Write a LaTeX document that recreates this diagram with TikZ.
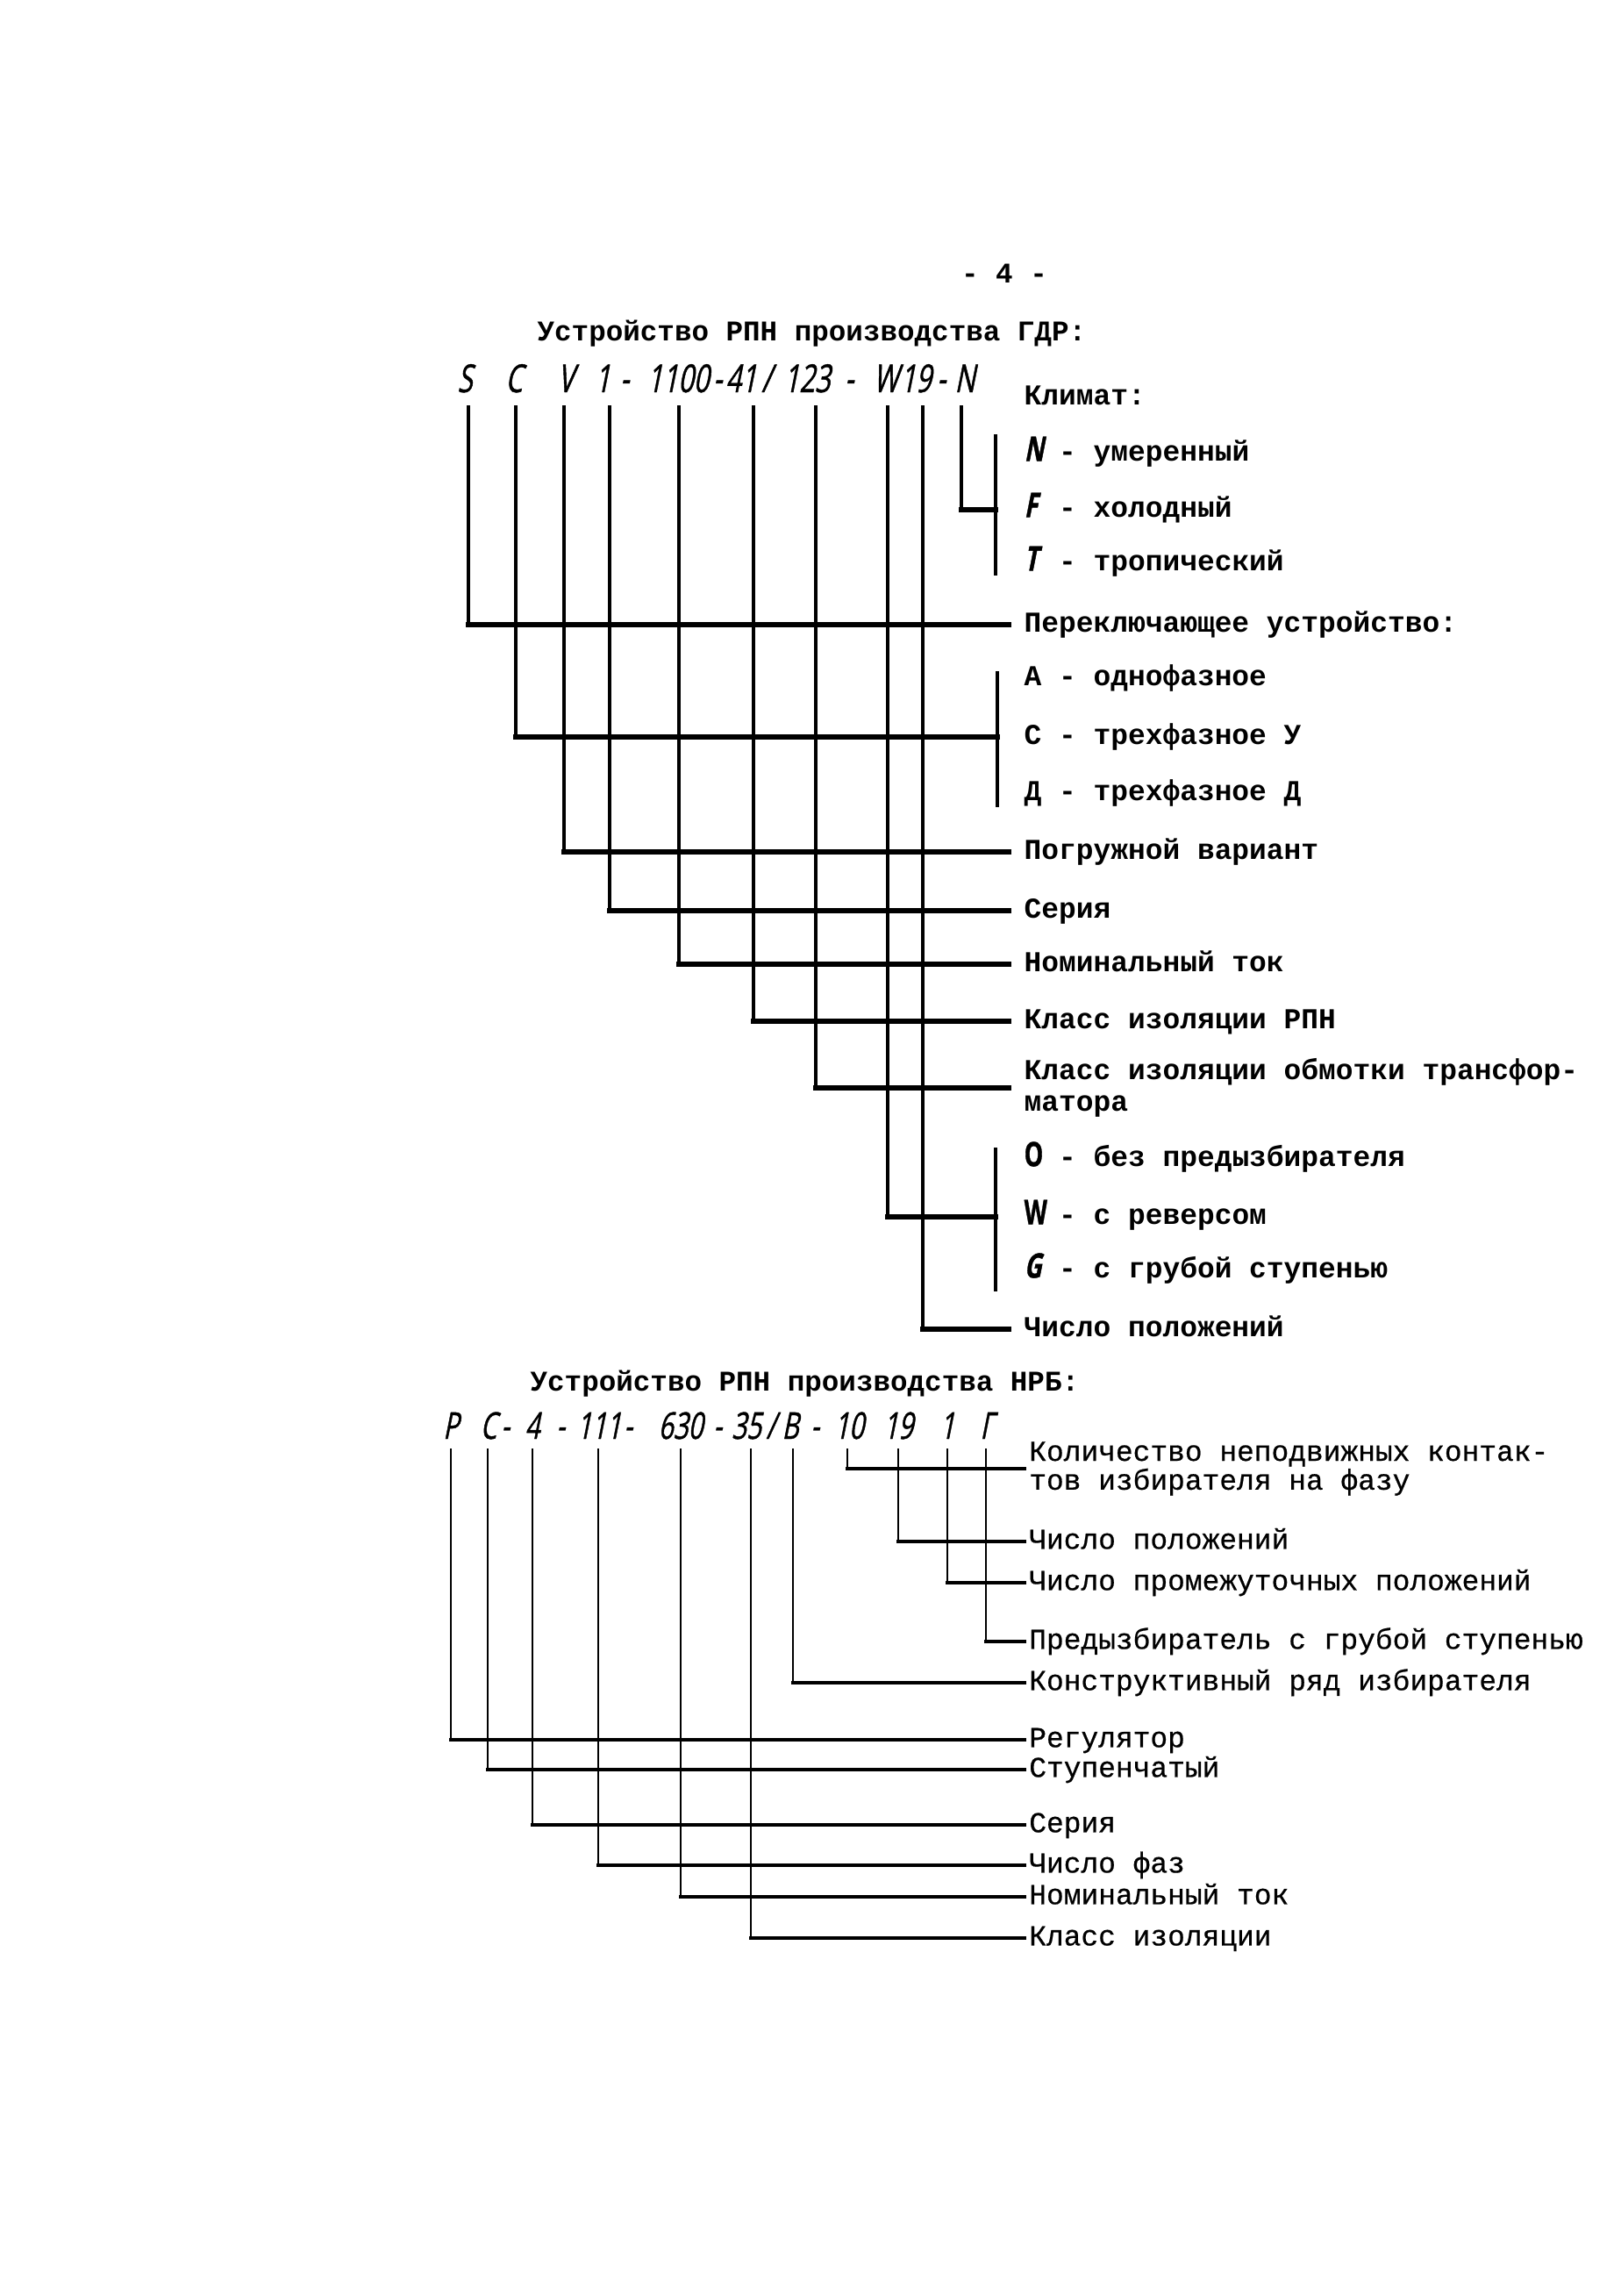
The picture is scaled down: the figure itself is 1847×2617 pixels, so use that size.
\documentclass[tikz,border=0pt]{standalone}
\usepackage{fontspec}
\newfontfamily\twbase{Liberation Mono}
\newfontfamily\twlow{Liberation Mono}[FakeBold=0.6]
\newfontfamily\cdslant{Open Sans}[FakeStretch=0.7,FakeSlant=0.2,FakeBold=1.0]
\newfontfamily\cdupr{Open Sans}[FakeStretch=0.7,FakeBold=0.8]
\newcommand\twb{\twbase\bfseries}
\newcommand\lc[1]{\makebox[6.36pt][l]{\cdslant\fontsize{12.5}{12.5}\selectfont #1}}
\newcommand\lu[1]{\makebox[6.36pt][l]{\cdupr\fontsize{12.5}{12.5}\selectfont #1}}
\tikzset{
  ul/.style={anchor=west, inner xsep=5.5pt, inner ysep=0pt, font=\twb\fontsize{10.6}{11.6}\selectfont, text height=7.8pt, text depth=2.4pt},
  ultwo/.style={anchor=west, inner xsep=5.5pt, inner ysep=0pt, font=\twb\fontsize{10.6}{11.6}\selectfont, align=left},
  ll/.style={anchor=west, inner xsep=1.5pt, inner ysep=0pt, font=\twlow\fontsize{10.6}{10.6}\selectfont, text height=7.8pt, text depth=2.4pt},
  lltwo/.style={anchor=west, inner xsep=1.5pt, inner ysep=0pt, font=\twlow\fontsize{10.6}{10.6}\selectfont, align=left},
  ttl/.style={inner sep=0pt, font=\twb\fontsize{10.5}{11.6}\selectfont, text height=7.8pt, text depth=2.4pt},
  cd/.style={anchor=base, inner sep=0pt, font=\cdslant\fontsize{14.2}{15}\selectfont},
  cdl/.style={anchor=base, inner sep=0pt, font=\cdslant\fontsize{13.6}{14}\selectfont},
  vu/.style={line width=1.1pt, line cap=rect},
  hu/.style={line width=1.7pt, line cap=rect},
  vl/.style={line width=0.9pt, line cap=rect},
  hl/.style={line width=1.4pt, line cap=rect}
}
\begin{document}
\begin{tikzpicture}[x=0.3223pt,y=-0.3223pt]
\useasboundingbox (0,0) rectangle (1847,2617);
\fill[white] (0,0) rectangle (1847,2617);

% ---------- header ----------
\node[ttl] (pg) at (1145,314) {- 4 -};
\node[ttl, anchor=west] (t1) at (612,380) {Устройство РПН производства ГДР:};

% ---------- code 1 ----------
\node[cd] (cS) at (530,447) {S};
\node[cd] (cC) at (586,447) {C};
\node[cd] (cV) at (645,447) {V};
\node[cd] (c1) at (687,447) {1};
\node[cd] (cd1) at (712,447) {-};
\node[cd] (c1100) at (773,447) {1100};
\node[cd] (cd2) at (818,447) {-};
\node[cd] (c41) at (845,447) {41};
\node[cd] (csl) at (874,447) {/};
\node[cd] (c123) at (920,447) {123};
\node[cd] (cd3) at (968,447) {-};
\node[cd] (cW) at (1010,447) {W};
\node[cd] (c19) at (1044,447) {19};
\node[cd] (cd4) at (1073,447) {-};
\node[cd] (cN) at (1100,447) {N};

% ---------- labels 1 ----------
\node[ul] (lKlim) at (1150,453) {Климат:};
\node[ul] (lN) at (1150,517) {\lc{N} - умеренный};
\node[ul] (lF) at (1150,581) {\lc{F} - холодный};
\node[ul] (lT) at (1150,642) {\lc{T} - тропический};
\node[ul] (lSw) at (1150,712) {Переключающее устройство:};
\node[ul] (lA) at (1150,773) {А - однофазное};
\node[ul] (lC) at (1150,840) {С - трехфазное У};
\node[ul] (lD) at (1150,904) {Д - трехфазное Д};
\node[ul] (lPog) at (1150,971) {Погружной вариант};
\node[ul] (lSer) at (1150,1038) {Серия};
\node[ul] (lNom) at (1150,1099) {Номинальный ток};
\node[ul] (lKl) at (1150,1164) {Класс изоляции РПН};
\node[ultwo] (lKo) at (1150,1240) {Класс изоляции обмотки трансфор-\\матора};
\node[ul] (lO) at (1150,1321) {\lu{O} - без предызбирателя};
\node[ul] (lW) at (1150,1387) {\lu{W} - с реверсом};
\node[ul] (lG) at (1150,1448) {\lc{G} - с грубой ступенью};
\node[ul] (lCh) at (1150,1515) {Число положений};

% ---------- brackets 1 ----------
\coordinate (bNa) at (1135,497);
\coordinate (bNb) at (1135,654);
\coordinate (bCa) at (1137,767);
\coordinate (bCb) at (1137,918);
\coordinate (bWa) at (1135,1310);
\coordinate (bWb) at (1135,1470);
\draw[vu] (bNa) -- (bNb);
\draw[vu] (bCa) -- (bCb);
\draw[vu] (bWa) -- (bWb);

% ---------- connectors 1 ----------
\coordinate (tS) at (534,464);
\coordinate (tC) at (588,464);
\coordinate (tV) at (643,464);
\coordinate (t1) at (695,464);
\coordinate (t1100) at (774,464);
\coordinate (t41) at (859,464);
\coordinate (t123) at (930,464);
\coordinate (tW) at (1012,464);
\coordinate (t19) at (1052,464);
\coordinate (tN) at (1096,464);

\draw[vu] (tS) -- (tS |- lSw.west);
\draw[hu] (tS |- lSw.west) -- (lSw.west);
\draw[vu] (tC) -- (tC |- lC.west);
\draw[hu] (tC |- lC.west) -- (bCa |- lC.west);
\draw[vu] (tV) -- (tV |- lPog.west);
\draw[hu] (tV |- lPog.west) -- (lPog.west);
\draw[vu] (t1) -- (t1 |- lSer.west);
\draw[hu] (t1 |- lSer.west) -- (lSer.west);
\draw[vu] (t1100) -- (t1100 |- lNom.west);
\draw[hu] (t1100 |- lNom.west) -- (lNom.west);
\draw[vu] (t41) -- (t41 |- lKl.west);
\draw[hu] (t41 |- lKl.west) -- (lKl.west);
\draw[vu] (t123) -- (t123 |- lKo.west);
\draw[hu] (t123 |- lKo.west) -- (lKo.west);
\draw[vu] (tW) -- (tW |- lW.west);
\draw[hu] (tW |- lW.west) -- (bWa |- lW.west);
\draw[vu] (t19) -- (t19 |- lCh.west);
\draw[hu] (t19 |- lCh.west) -- (lCh.west);
\draw[vu] (tN) -- (tN |- lF.west);
\draw[hu] (tN |- lF.west) -- (bNa |- lF.west);

% ---------- header 2 ----------
\node[ttl, anchor=west] (t2) at (604,1577) {Устройство РПН производства НРБ:};

% ---------- code 2 ----------
\node[cdl] (kP) at (514,1640) {Р};
\node[cdl] (kC) at (557,1640) {С};
\node[cdl] (kd1) at (576,1640) {-};
\node[cdl] (k4) at (607,1640) {4};
\node[cdl] (kd2) at (639,1640) {-};
\node[cdl] (k111) at (683,1640) {111};
\node[cdl] (kd3) at (716,1640) {-};
\node[cdl] (k630) at (776,1640) {630};
\node[cdl] (kd4) at (818,1640) {-};
\node[cdl] (k35) at (851,1640) {35};
\node[cdl] (ksl) at (879,1640) {/};
\node[cdl] (kB) at (901,1640) {В};
\node[cdl] (kd5) at (929,1640) {-};
\node[cdl] (k10) at (968,1640) {10};
\node[cdl] (k19) at (1024,1640) {19};
\node[cdl] (k1) at (1080,1640) {1};
\node[cdl] (kG) at (1125,1640) {Г};

% ---------- labels 2 ----------
\node[lltwo] (mKol) at (1168,1674) {Количество неподвижных контак-\\тов избирателя на фазу};
\node[ll] (mCh) at (1168,1757) {Число положений};
\node[ll] (mChp) at (1168,1804) {Число промежуточных положений};
\node[ll] (mPre) at (1168,1871) {Предызбиратель с грубой ступенью};
\node[ll] (mKon) at (1168,1918) {Конструктивный ряд избирателя};
\node[ll] (mReg) at (1168,1983) {Регулятор};
\node[ll] (mStu) at (1168,2017) {Ступенчатый};
\node[ll] (mSer) at (1168,2080) {Серия};
\node[ll] (mFaz) at (1168,2126) {Число фаз};
\node[ll] (mNom) at (1168,2162) {Номинальный ток};
\node[ll] (mKlz) at (1168,2209) {Класс изоляции};

% ---------- connectors 2 ----------
\coordinate (uP) at (514,1652);
\coordinate (uC) at (556,1652);
\coordinate (u4) at (607,1652);
\coordinate (u111) at (682,1652);
\coordinate (u630) at (776,1652);
\coordinate (u35) at (856,1652);
\coordinate (uB) at (904,1652);
\coordinate (u10) at (966,1652);
\coordinate (u19) at (1024,1652);
\coordinate (u1) at (1080,1652);
\coordinate (uG) at (1124,1652);

\draw[vl] (uP) -- (uP |- mReg.west);
\draw[hl] (uP |- mReg.west) -- (mReg.west);
\draw[vl] (uC) -- (uC |- mStu.west);
\draw[hl] (uC |- mStu.west) -- (mStu.west);
\draw[vl] (u4) -- (u4 |- mSer.west);
\draw[hl] (u4 |- mSer.west) -- (mSer.west);
\draw[vl] (u111) -- (u111 |- mFaz.west);
\draw[hl] (u111 |- mFaz.west) -- (mFaz.west);
\draw[vl] (u630) -- (u630 |- mNom.west);
\draw[hl] (u630 |- mNom.west) -- (mNom.west);
\draw[vl] (u35) -- (u35 |- mKlz.west);
\draw[hl] (u35 |- mKlz.west) -- (mKlz.west);
\draw[vl] (uB) -- (uB |- mKon.west);
\draw[hl] (uB |- mKon.west) -- (mKon.west);
\draw[vl] (u10) -- (u10 |- mKol.west);
\draw[hl] (u10 |- mKol.west) -- (mKol.west);
\draw[vl] (u19) -- (u19 |- mCh.west);
\draw[hl] (u19 |- mCh.west) -- (mCh.west);
\draw[vl] (u1) -- (u1 |- mChp.west);
\draw[hl] (u1 |- mChp.west) -- (mChp.west);
\draw[vl] (uG) -- (uG |- mPre.west);
\draw[hl] (uG |- mPre.west) -- (mPre.west);
\end{tikzpicture}
\end{document}
